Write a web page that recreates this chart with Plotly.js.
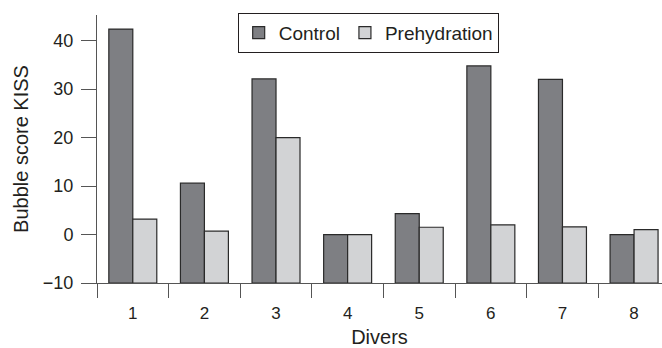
<!DOCTYPE html>
<html>
<head>
<meta charset="utf-8">
<script src="https://cdn.plot.ly/plotly-3.0.1.min.js"></script>
<style>html,body{margin:0;padding:0;background:#fff;}#chart{width:662px;height:348px;}</style>
</head>
<body>
<div id="chart"></div>
<script>
const divers = [1, 2, 3, 4, 5, 6, 7, 8];
const tickLabels = ['1', '2', '3', '4', '5', '6', '7', '8'];
const control = [42.4, 10.6, 32.1, 0, 4.3, 34.8, 32.0, 0];
const prehydration = [3.2, 0.7, 20.0, 0, 1.5, 2.0, 1.6, 1.0];
const baseValue = -10;

const textColor = '#231f20';
const fontFam = 'Liberation Sans, Arial, sans-serif';

const traces = [
  {
    type: 'bar', name: 'Control', x: divers,
    y: control.map(v => v - baseValue), base: baseValue,
    marker: {color: '#7e7f83', line: {color: '#2a2a2a', width: 1.2}}
  },
  {
    type: 'bar', name: 'Prehydration', x: divers,
    y: prehydration.map(v => v - baseValue), base: baseValue,
    marker: {color: '#d2d3d5', line: {color: '#2a2a2a', width: 1.2}}
  },
  {
    type: 'scatter', x: [0.5], y: [baseValue], xaxis: 'x2', yaxis: 'y',
    mode: 'markers', marker: {opacity: 0}, showlegend: false, hoverinfo: 'skip'
  }
];

const boundaries = divers.map(d => d - 0.5);

const layout = {
  width: 662, height: 348,
  margin: {l: 97, r: 0, t: 15, b: 65},
  paper_bgcolor: '#fff', plot_bgcolor: '#fff',
  font: {family: fontFam, color: textColor, size: 17},
  barmode: 'group', bargap: 0.33, bargroupgap: 0,
  showlegend: true,
  legend: {
    orientation: 'h', x: 0.249, xanchor: 'left', y: 1.008, yanchor: 'top',
    bordercolor: '#231f20', borderwidth: 1, bgcolor: '#fff',
    font: {size: 19, family: fontFam, color: textColor},
    itemwidth: 30, tracegroupgap: 0
  },
  xaxis: {
    range: [0.5, 8.39], tickmode: 'array', tickvals: divers, ticktext: tickLabels,
    ticks: '', showline: true, linecolor: '#555', linewidth: 1,
    showgrid: false, zeroline: false, ticklabelstandoff: 15,
    tickfont: {size: 17},
    title: {text: 'Divers', font: {size: 20}, standoff: 9}
  },
  xaxis2: {
    overlaying: 'x', range: [0.5, 8.39], tickmode: 'array', tickvals: boundaries,
    ticks: 'outside', ticklen: 14, tickcolor: '#555', tickwidth: 1,
    showticklabels: false, showline: false, showgrid: false, zeroline: false
  },
  yaxis: {
    range: [-10, 45.3], tickmode: 'array', tickvals: [-10, 0, 10, 20, 30, 40],
    ticktext: ['\u221210', '0', '10', '20', '30', '40'],
    ticks: 'outside', ticklen: 15, tickcolor: '#555', tickwidth: 1,
    showline: true, linecolor: '#555', linewidth: 1,
    showgrid: false, zeroline: false, tickfont: {size: 18}, ticklabelstandoff: 4,
    title: {text: 'Bubble score KISS', font: {size: 20}, standoff: 8}
  }
};

Plotly.newPlot('chart', traces, layout, {displayModeBar: false, staticPlot: true});
</script>
</body>
</html>
